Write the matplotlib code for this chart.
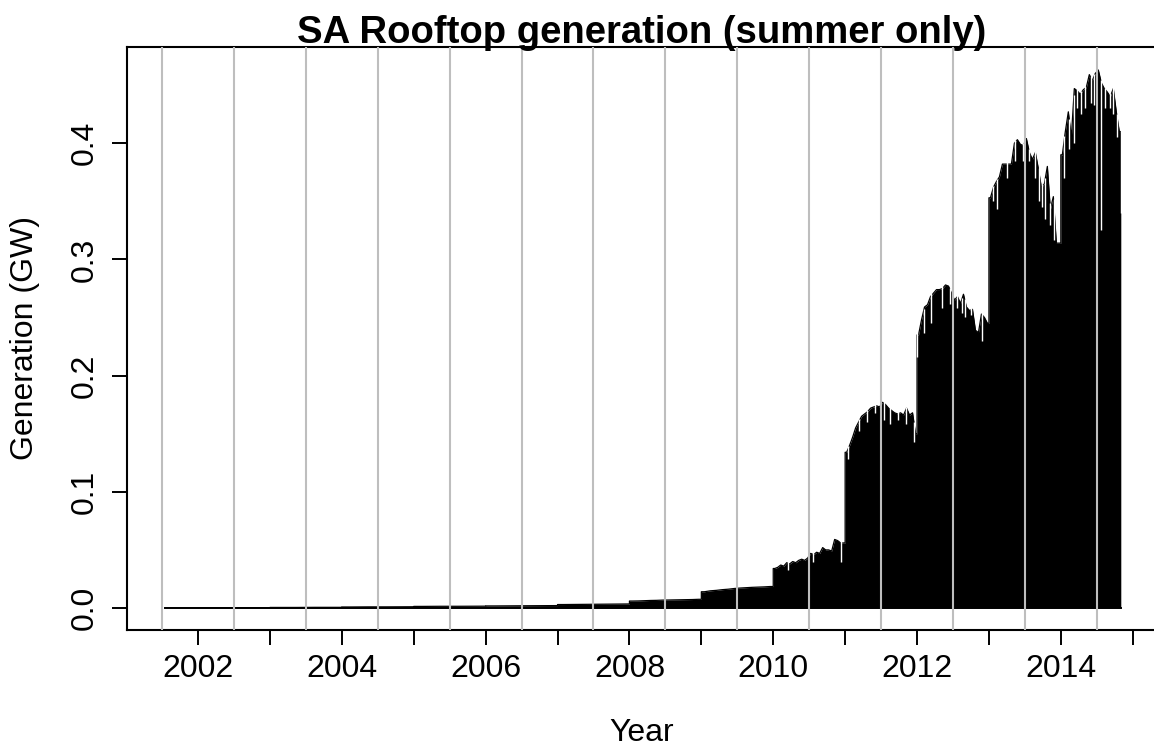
import numpy as np
import matplotlib
matplotlib.use("Agg")
import matplotlib.pyplot as plt

plt.rcParams["font.family"] = ["Liberation Sans", "DejaVu Sans"]

# ---- data: upper envelope of the half-hourly generation, per year (GW) ----
# each year's values are evenly spread over the part of the year covered
data_start = 2001.54
data_end = 2014.834

peak_2001 = [0.0002, 0.0002, 0.0002, 0.0002]
peak_2002 = [0.0003, 0.0003, 0.0003, 0.0003]
peak_2003 = [0.0005, 0.0005, 0.0006, 0.0006]
peak_2004 = [0.0009, 0.0010, 0.0010, 0.0011]
peak_2005 = [0.0014, 0.0015, 0.0015, 0.0016]
peak_2006 = [0.0018, 0.0019, 0.0020, 0.0021]
peak_2007 = [0.0030, 0.0031, 0.0032, 0.0033, 0.0034, 0.0035]
peak_2008 = [0.0060, 0.0061, 0.0063, 0.0065, 0.0066, 0.0068,
             0.0069, 0.0070, 0.0071, 0.0072, 0.0073, 0.0075]
peak_2009 = [0.0140, 0.0148, 0.0152, 0.0158, 0.0162, 0.0168,
             0.0172, 0.0175, 0.0178, 0.0180, 0.0182, 0.0185]
peak_2010 = [0.034, 0.035, 0.037, 0.036, 0.039, 0.038, 0.040, 0.039,
             0.041, 0.042, 0.041, 0.043, 0.047, 0.046, 0.048, 0.047,
             0.052, 0.050, 0.050, 0.049, 0.059, 0.058, 0.056, 0.056]
peak_2011 = [0.134, 0.140, 0.147, 0.155, 0.160, 0.165, 0.167, 0.169,
             0.172, 0.173, 0.174, 0.173, 0.177, 0.175, 0.172, 0.170,
             0.168, 0.167, 0.168, 0.166, 0.172, 0.166, 0.168, 0.150]
peak_2012 = [0.235, 0.248, 0.259, 0.261, 0.268, 0.271, 0.274, 0.274,
             0.275, 0.278, 0.277, 0.271, 0.265, 0.268, 0.262, 0.270,
             0.259, 0.256, 0.257, 0.239, 0.237, 0.253, 0.250, 0.245]
peak_2013 = [0.353, 0.362, 0.367, 0.371, 0.382, 0.382, 0.382, 0.382,
             0.400, 0.403, 0.399, 0.398, 0.404, 0.392, 0.386, 0.392,
             0.378, 0.362, 0.365, 0.380, 0.343, 0.354, 0.314, 0.314]
peak_2014 = [0.390, 0.410, 0.427, 0.405, 0.447, 0.445, 0.442, 0.446,
             0.448, 0.459, 0.454, 0.460, 0.463, 0.452, 0.447, 0.444,
             0.440, 0.447, 0.427, 0.410]

peak_years = [2001, 2002, 2003, 2004, 2005, 2006, 2007, 2008,
              2009, 2010, 2011, 2012, 2013, 2014]
peaks = [peak_2001, peak_2002, peak_2003, peak_2004, peak_2005, peak_2006,
         peak_2007, peak_2008, peak_2009, peak_2010, peak_2011, peak_2012,
         peak_2013, peak_2014]

# cloudy days: (time, GW) where the daily peak falls well below its neighbours
dip_t = [2010.20, 2010.55, 2010.94,
         2011.045, 2011.19, 2011.30, 2011.42, 2011.54, 2011.62, 2011.74,
         2011.85, 2011.96,
         2012.005, 2012.09, 2012.20, 2012.35, 2012.46, 2012.56, 2012.62,
         2012.67, 2012.75, 2012.83, 2012.90,
         2013.06, 2013.11, 2013.25, 2013.36, 2013.48, 2013.56, 2013.64,
         2013.69, 2013.74, 2013.78, 2013.85, 2013.90,
         2014.05, 2014.12, 2014.18, 2014.23, 2014.28, 2014.34, 2014.42,
         2014.46, 2014.56, 2014.62, 2014.68, 2014.73, 2014.78, 2014.832]
dip_v = [0.033, 0.040, 0.040,
         0.128, 0.152, 0.160, 0.168, 0.162, 0.158, 0.162,
         0.158, 0.143,
         0.216, 0.237, 0.245, 0.258, 0.262, 0.258, 0.254,
         0.250, 0.252, 0.240, 0.230,
         0.350, 0.343, 0.370, 0.385, 0.385, 0.385, 0.370,
         0.350, 0.345, 0.335, 0.330, 0.317,
         0.370, 0.395, 0.400, 0.430, 0.425, 0.430, 0.435,
         0.433, 0.325, 0.430, 0.430, 0.425, 0.405, 0.340]

# grey reference lines at mid-year
mark_years = [2001, 2002, 2003, 2004, 2005, 2006, 2007, 2008,
              2009, 2010, 2011, 2012, 2013, 2014]

# build the envelope (flat steps at every 1 January)
tt, vv = [], []
for yr, vals in zip(peak_years, peaks):
    a = max(yr, data_start)
    b = min(yr + 1, data_end)
    n = len(vals)
    step = (b - a) / n
    tt += [a] + [a + (i + 0.5) * step for i in range(n)] + [b]
    vv += [vals[0]] + list(vals) + [vals[-1]]
tt = np.array(tt)
vv = np.array(vv)

fig = plt.figure(figsize=(11.54, 7.49), dpi=100)
ax = fig.add_axes([0.1101, 0.1589, 0.8934, 0.7784])

ax.fill_between(tt, 0, vv, color="black", lw=0, zorder=2)
ax.plot(tt, vv, color="black", lw=0.9, zorder=2)
ax.plot([data_start, data_end], [0, 0], color="black", lw=1.4, zorder=2)

env_at_dip = np.interp(dip_t, tt, vv)
ax.vlines(dip_t, dip_v, env_at_dip + 0.002, color="white", lw=1.0, zorder=3)

for yr in mark_years:
    ax.axvline(yr + 0.5, color="#BEBEBE", lw=1.5, zorder=4)

ax.set_xlim(2001.0125, 2015.352)
ax.set_ylim(-0.0189, 0.4828)

ax.set_xticks(range(2002, 2016))
ax.set_xticklabels([str(y) if y % 2 == 0 and y < 2015 else "" for y in range(2002, 2016)])
ax.set_yticks([0.0, 0.1, 0.2, 0.3, 0.4])
ax.set_yticklabels(["0.0", "0.1", "0.2", "0.3", "0.4"], rotation=90, va="center")
ax.tick_params(length=11, width=1.4, labelsize=23, color="black")
ax.tick_params(axis="x", pad=6)
ax.tick_params(axis="y", pad=9)
for s in ax.spines.values():
    s.set_linewidth(1.5)

fig.text(642 / 1154, 1 - 43 / 749, "SA Rooftop generation (summer only)",
         ha="center", va="baseline", fontsize=27.5, weight="bold")
fig.text(642 / 1154, 1 - 733 / 749, "Year", ha="center", va="center", fontsize=23)
fig.text(25 / 1154, 1 - 338 / 749, "Generation (GW)", ha="center", va="center",
         fontsize=23, rotation=90)

fig.savefig("out.png", dpi=100)
